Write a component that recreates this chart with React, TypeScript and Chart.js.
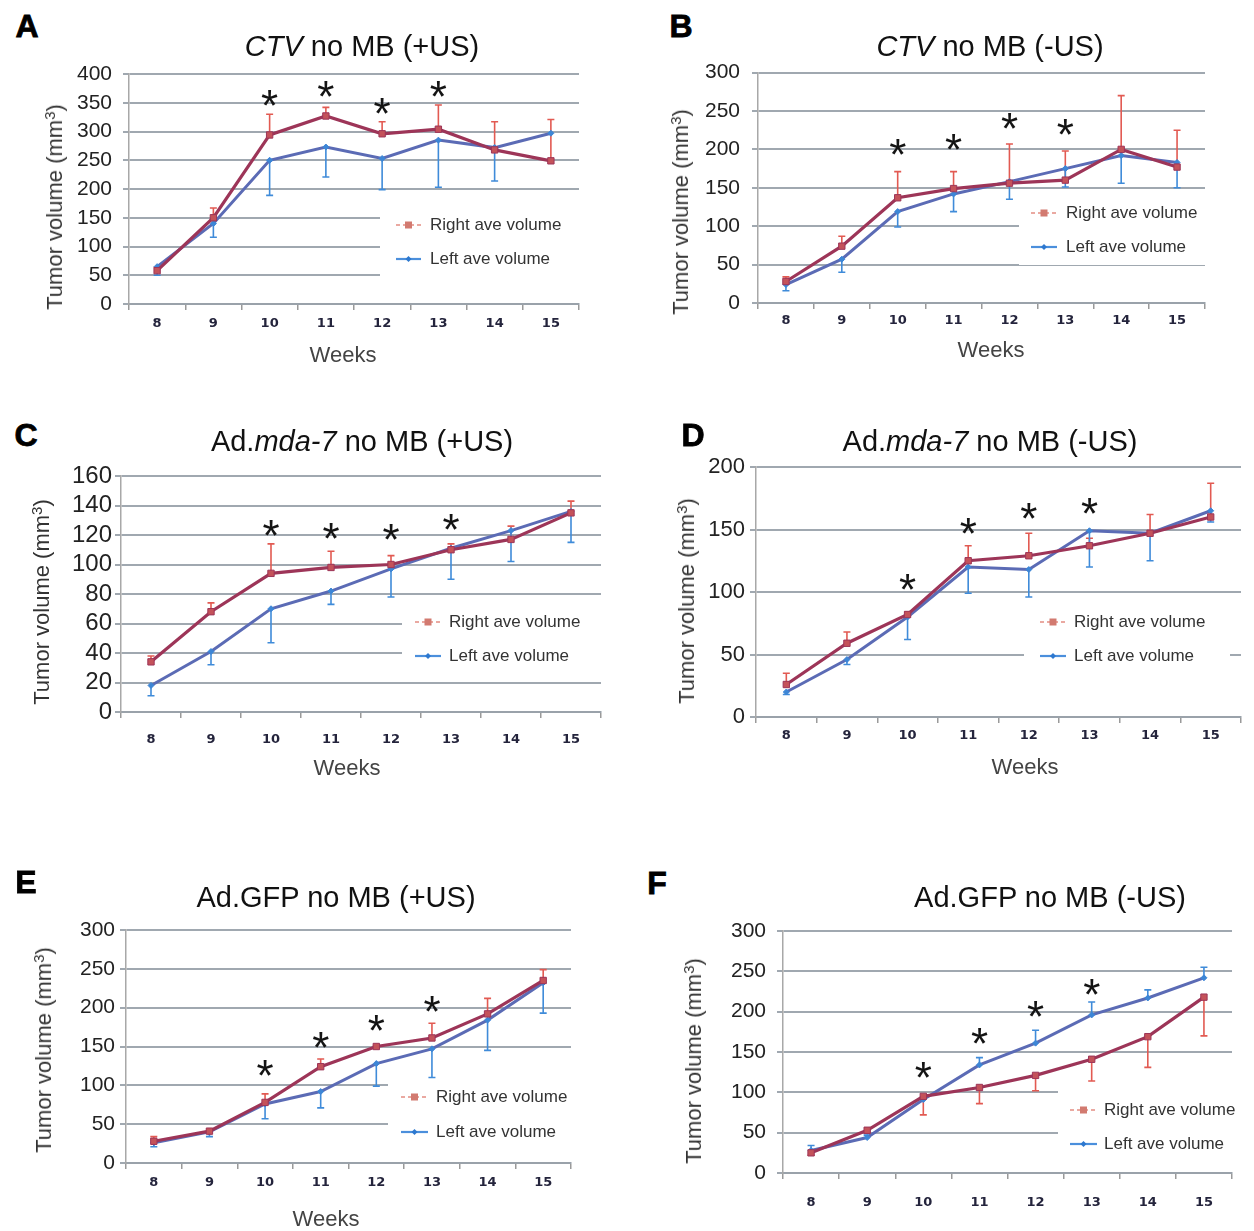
import React, { useEffect, useRef } from 'react';
import { Chart, registerables } from 'chart.js';

Chart.register(...registerables);

// ---------- shared labels ----------
const weeks = ['8', '9', '10', '11', '12', '13', '14', '15'];
const starWeeks = ['10', '11', '12', '13'];
const legendLabels = ['Right ave volume', 'Left ave volume'];
const xAxisTitle = 'Weeks';

// ---------- Panel A: CTV no MB (+US) ----------
const aRight = [58, 150, 294, 327, 296, 304, 268, 249];
const aRightBar = [64, 167, 330, 342, 317, 346, 317, 321];
const aLeft = [65, 140, 250, 273, 253, 285, 272, 297];
const aLeftBar = [50, 116, 189, 221, 199, 203, 214, 297];
const aStars = [358, 374, 345, 374];

// ---------- Panel B: CTV no MB (-US) ----------
const bRight = [28, 74, 137, 149, 156, 160, 200, 177];
const bRightBar = [34, 87, 171, 171, 207, 198, 270, 225];
const bLeft = [24, 57, 119, 142, 158, 175, 192, 183];
const bLeftBar = [16, 40, 99, 119, 135, 151, 156, 150];
const bStars = [203, 209, 237, 229];

// ---------- Panel C: Ad.mda-7 no MB (+US) ----------
const cRight = [34, 68, 94, 98, 100, 110, 117, 135];
const cRightBar = [38, 74, 114, 109, 106, 114, 126, 143];
const cLeft = [18, 41, 70, 82, 97, 111, 123, 136];
const cLeftBar = [11, 32, 47, 73, 78, 90, 102, 115];
const cStars = [125, 123, 122, 129];

// ---------- Panel D: Ad.mda-7 no MB (-US) ----------
const dRight = [26, 59, 82, 125, 129, 137, 147, 160];
const dRightBar = [35, 68, 84, 137, 147, 143, 162, 187];
const dLeft = [20, 46, 80, 120, 118, 149, 147, 165];
const dLeftBar = [18, 42, 62, 99, 96, 120, 125, 156];
const dStars = [108, 153, 165, 169];

// ---------- Panel E: Ad.GFP no MB (+US) ----------
const eRight = [28, 41, 78, 124, 150, 161, 192, 235];
const eRightBar = [34, 42, 89, 134, 151, 180, 212, 249];
const eLeft = [26, 40, 76, 92, 128, 147, 184, 232];
const eLeftBar = [21, 34, 57, 71, 99, 110, 145, 193];
const eStars = [122, 159, 180, 205];

// ---------- Panel F: Ad.GFP no MB (-US) ----------
const fRight = [25, 53, 95, 106, 121, 141, 169, 218];
const fRightBar = [22, 49, 72, 86, 102, 114, 131, 170];
const fLeft = [28, 44, 91, 134, 161, 196, 217, 242];
const fLeftBar = [34, 47, 91, 143, 177, 212, 227, 255];
const fStars = [128, 170, 203, 231];

const FONT = '"Liberation Sans", Arial, Helvetica, sans-serif';
const YW = 80; // y axis box width
const XH = 50; // x axis box height
const PT = 24; // top padding
const PR = 40; // right padding

type LegendCfg = { box: [number, number, number, number]; yR: number; yL: number; sx: [number, number]; tx: number };

type PanelCfg = {
  id: string;
  letter: string;
  letterXY: [number, number];
  title: React.ReactNode;
  titleXY: [number, number];
  area: [number, number, number, number];
  yMax: number;
  yStep: number;
  yFont: number;
  yPad: number;
  xPad: number;
  right: number[];
  rightBar: number[];
  left: number[];
  leftBar: number[];
  stars: number[];
  legend: LegendCfg;
  yTitleXY: [number, number];
  weeksXY?: [number, number];
};

const panels: PanelCfg[] = [
  {
    id: 'A', letter: 'A', letterXY: [27, 26],
    title: (<><i>CTV</i> no MB (+US)</>), titleXY: [362, 46],
    area: [129, 74, 579, 304], yMax: 400, yStep: 50, yFont: 21, yPad: 11, xPad: 6,
    right: aRight, rightBar: aRightBar, left: aLeft, leftBar: aLeftBar, stars: aStars,
    legend: { box: [380, 205, 584, 276], yR: 225, yL: 259, sx: [396, 421], tx: 430 },
    yTitleXY: [55, 207], weeksXY: [343, 355],
  },
  {
    id: 'B', letter: 'B', letterXY: [681, 26],
    title: (<><i>CTV</i> no MB (-US)</>), titleXY: [990, 46],
    area: [758, 72, 1205, 303], yMax: 300, yStep: 50, yFont: 21, yPad: 12, xPad: 4,
    right: bRight, rightBar: bRightBar, left: bLeft, leftBar: bLeftBar, stars: bStars,
    legend: { box: [1019, 195, 1222, 265], yR: 213, yL: 247, sx: [1031, 1057], tx: 1066 },
    yTitleXY: [681, 212], weeksXY: [991, 350],
  },
  {
    id: 'C', letter: 'C', letterXY: [26, 435],
    title: (<>Ad.<i>mda-7</i> no MB (+US)</>), titleXY: [362, 441],
    area: [121, 476, 601, 712], yMax: 160, yStep: 20, yFont: 24, yPad: 3, xPad: 14,
    right: cRight, rightBar: cRightBar, left: cLeft, leftBar: cLeftBar, stars: cStars,
    legend: { box: [402, 604, 604, 672], yR: 622, yL: 656, sx: [415, 441], tx: 449 },
    yTitleXY: [42, 602], weeksXY: [347, 768],
  },
  {
    id: 'D', letter: 'D', letterXY: [693, 435],
    title: (<>Ad.<i>mda-7</i> no MB (-US)</>), titleXY: [990, 441],
    area: [756, 467, 1241, 717], yMax: 200, yStep: 50, yFont: 22, yPad: 5, xPad: 5,
    right: dRight, rightBar: dRightBar, left: dLeft, leftBar: dLeftBar, stars: dStars,
    legend: { box: [1024, 604, 1230, 673], yR: 622, yL: 656, sx: [1040, 1066], tx: 1074 },
    yTitleXY: [687, 601], weeksXY: [1025, 767],
  },
  {
    id: 'E', letter: 'E', letterXY: [26, 882],
    title: (<>Ad.GFP no MB (+US)</>), titleXY: [336, 897],
    area: [126, 930, 571, 1163], yMax: 300, yStep: 50, yFont: 21, yPad: 5, xPad: 6,
    right: eRight, rightBar: eRightBar, left: eLeft, leftBar: eLeftBar, stars: eStars,
    legend: { box: [388, 1079, 592, 1148], yR: 1097, yL: 1132, sx: [401, 428], tx: 436 },
    yTitleXY: [44, 1050], weeksXY: [326, 1219],
  },
  {
    id: 'F', letter: 'F', letterXY: [657, 883],
    title: (<>Ad.GFP no MB (-US)</>), titleXY: [1050, 897],
    area: [783, 931, 1232, 1173], yMax: 300, yStep: 50, yFont: 21, yPad: 11, xPad: 16,
    right: fRight, rightBar: fRightBar, left: fLeft, leftBar: fLeftBar, stars: fStars,
    legend: { box: [1058, 1091, 1262, 1162], yR: 1110, yL: 1144, sx: [1070, 1097], tx: 1104 },
    yTitleXY: [694, 1061],
  },
];

function makeDecor(p: PanelCfg, ox: number, oy: number) {
  return {
    id: 'decor' + p.id,
    beforeDatasetsDraw(chart: any) {
      const ctx: CanvasRenderingContext2D = chart.ctx;
      const xs = chart.scales.x;
      const ys = chart.scales.y;
      ctx.save();
      // legend box
      const [bx0, by0, bx1, by1] = p.legend.box;
      ctx.fillStyle = '#ffffff';
      ctx.fillRect(bx0 - ox, by0 - oy, bx1 - bx0, by1 - by0);

      // error bars
      const drawBars = (vals: number[], ends: number[], color: string) => {
        ctx.strokeStyle = color;
        ctx.lineWidth = 1.6;
        ctx.setLineDash([]);
        vals.forEach((v, i) => {
          const e = ends[i];
          if (e === v) return;
          const x = xs.getPixelForValue(i);
          const y0 = ys.getPixelForValue(v);
          const y1 = ys.getPixelForValue(e);
          ctx.beginPath();
          ctx.moveTo(x, y0);
          ctx.lineTo(x, y1);
          ctx.moveTo(x - 3.5, y1);
          ctx.lineTo(x + 3.5, y1);
          ctx.stroke();
        });
      };
      drawBars(p.right, p.rightBar, '#e25a52');
      drawBars(p.left, p.leftBar, '#3f8bd9');

      // legend samples
      const L = p.legend;
      const sx0 = L.sx[0] - ox;
      const sx1 = L.sx[1] - ox;
      const yR = L.yR - oy;
      const yL = L.yL - oy;
      ctx.lineWidth = 2.2;
      ctx.strokeStyle = '#eaa9a1';
      ctx.setLineDash([4, 3]);
      ctx.beginPath();
      ctx.moveTo(sx0, yR);
      ctx.lineTo(sx1, yR);
      ctx.stroke();
      ctx.setLineDash([]);
      ctx.fillStyle = '#d27a70';
      const mx = (sx0 + sx1) / 2;
      ctx.fillRect(mx - 3.5, yR - 3.5, 7, 7);
      ctx.strokeStyle = '#4b8fdc';
      ctx.beginPath();
      ctx.moveTo(sx0, yL);
      ctx.lineTo(sx1, yL);
      ctx.stroke();
      ctx.fillStyle = '#2d78cf';
      ctx.beginPath();
      ctx.moveTo(mx, yL - 3);
      ctx.lineTo(mx + 3, yL);
      ctx.lineTo(mx, yL + 3);
      ctx.lineTo(mx - 3, yL);
      ctx.closePath();
      ctx.fill();
      ctx.fillStyle = '#333333';
      ctx.font = '17px ' + FONT;
      ctx.textBaseline = 'middle';
      ctx.textAlign = 'left';
      ctx.fillText(legendLabels[0], L.tx - ox, yR);
      ctx.fillText(legendLabels[1], L.tx - ox, yL);
      ctx.restore();
    },
    afterDatasetsDraw(chart: any) {
      const ctx: CanvasRenderingContext2D = chart.ctx;
      const xs = chart.scales.x;
      const ys = chart.scales.y;
      ctx.save();
      ctx.fillStyle = '#141414';
      ctx.font = '44px ' + FONT;
      ctx.textAlign = 'center';
      ctx.textBaseline = 'alphabetic';
      const m = ctx.measureText('*');
      const asc = m.actualBoundingBoxAscent;
      const desc = m.actualBoundingBoxDescent;
      const mid = (asc - desc) / 2;
      p.stars.forEach((v, i) => {
        const idx = weeks.indexOf(starWeeks[i]);
        const x = xs.getPixelForValue(idx);
        const y = ys.getPixelForValue(v);
        ctx.fillText('*', x, y + mid);
      });
      ctx.restore();
    },
  };
}

function Panel({ p }: { p: PanelCfg }) {
  const ref = useRef<HTMLCanvasElement | null>(null);
  const [l, t, r, b] = p.area;
  const ox = l - YW;
  const oy = t - PT;
  const w = r - l + YW + PR;
  const h = b - t + PT + XH;

  useEffect(() => {
    if (!ref.current) return;
    const chart = new Chart(ref.current, {
      type: 'line',
      data: {
        labels: weeks,
        datasets: [
          {
            label: legendLabels[0],
            data: p.right,
            borderColor: '#9d3558',
            borderWidth: 3.2,
            pointStyle: 'rect',
            pointRadius: 4.5,
            pointBackgroundColor: '#c4525a',
            pointBorderColor: '#9d3558',
            pointBorderWidth: 1,
            tension: 0,
            order: 1,
          },
          {
            label: legendLabels[1],
            data: p.left,
            borderColor: '#5b6bb5',
            borderWidth: 3,
            pointStyle: 'rectRot',
            pointRadius: 3,
            pointBackgroundColor: '#3d86d6',
            pointBorderColor: '#3d86d6',
            pointBorderWidth: 1,
            tension: 0,
            order: 2,
          },
        ],
      },
      options: {
        animation: false,
        responsive: false,
        events: [],
        layout: { padding: { left: 0, top: PT, right: PR, bottom: 0 } },
        plugins: {
          legend: { display: false },
          title: { display: false },
          tooltip: { enabled: false },
        },
        scales: {
          x: {
            type: 'category',
            offset: true,
            grid: {
              offset: true,
              drawOnChartArea: false,
              drawTicks: true,
              tickLength: 6,
              color: '#9a9a9a',
              lineWidth: 1.5,
            },
            border: { display: true, color: '#9aa2aa', width: 2 },
            ticks: {
              font: { family: '"DejaVu Sans", Verdana, sans-serif', size: 13, weight: 'bold' },
              color: '#24243c',
              padding: p.xPad,
              maxRotation: 0,
              autoSkip: false,
            },
            afterFit: (s: any) => {
              s.height = XH;
            },
          },
          y: {
            min: 0,
            max: p.yMax,
            ticks: {
              stepSize: p.yStep,
              autoSkip: false,
              font: { family: FONT, size: p.yFont },
              color: '#222222',
              padding: p.yPad,
            },
            grid: { color: '#a0a8b0', lineWidth: 2, tickLength: 6, drawTicks: true },
            border: { display: true, color: '#a8a8a8', width: 1.5 },
            afterFit: (s: any) => {
              s.width = YW;
            },
          },
        },
      } as any,
      plugins: [makeDecor(p, ox, oy)],
    });
    return () => chart.destroy();
  }, []);

  const textBase: React.CSSProperties = {
    position: 'absolute',
    whiteSpace: 'nowrap',
    lineHeight: 1,
    fontFamily: FONT,
  };

  return (
    <>
      <canvas
        ref={ref}
        width={w}
        height={h}
        style={{ position: 'absolute', left: ox, top: oy, width: w, height: h }}
      />
      <div
        style={{
          ...textBase,
          left: p.letterXY[0],
          top: p.letterXY[1],
          transform: 'translate(-50%, -50%)',
          fontWeight: 'bold',
          fontSize: 32,
          color: '#000',
          WebkitTextStroke: '0.8px #000',
        }}
      >
        {p.letter}
      </div>
      <div
        style={{
          ...textBase,
          left: p.titleXY[0],
          top: p.titleXY[1],
          transform: 'translate(-50%, -50%)',
          fontSize: 29,
          color: '#111',
        }}
      >
        {p.title}
      </div>
      <div
        style={{
          ...textBase,
          left: p.yTitleXY[0],
          top: p.yTitleXY[1],
          transform: 'translate(-50%, -50%) rotate(-90deg)',
          fontSize: 22,
          color: '#333',
        }}
      >
        Tumor volume (mm<sup style={{ fontSize: 15, verticalAlign: 'top', position: 'relative', top: -2 }}>3</sup>)
      </div>
      {p.weeksXY && (
        <div
          style={{
            ...textBase,
            left: p.weeksXY[0],
            top: p.weeksXY[1],
            transform: 'translate(-50%, -50%)',
            fontSize: 22,
            color: '#444',
          }}
        >
          {xAxisTitle}
        </div>
      )}
    </>
  );
}

export default function App() {
  return (
    <div
      style={{
        position: 'absolute',
        left: 0,
        top: 0,
        width: 1254,
        height: 1231,
        overflow: 'hidden',
        background: '#ffffff',
      }}
    >
      {panels.map((p) => (
        <Panel key={p.id} p={p} />
      ))}
    </div>
  );
}
